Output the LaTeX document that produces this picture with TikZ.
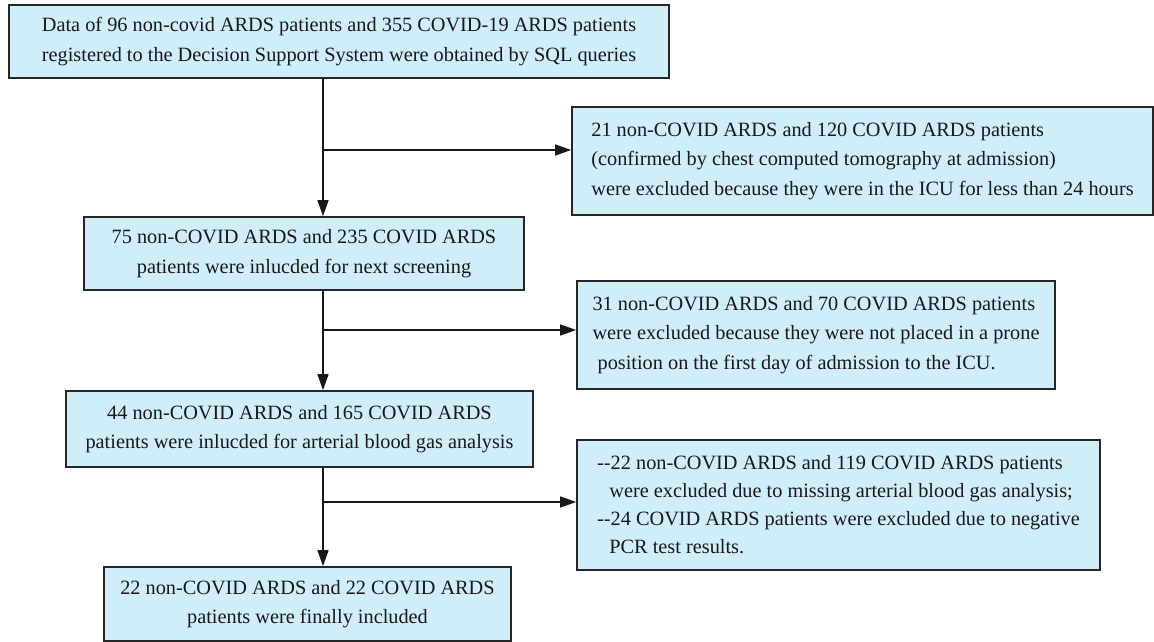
\documentclass[tikz,border=0pt]{standalone}
\usepackage{fontspec}
\setmainfont{Liberation Serif}
\usepackage{tikz}
\usetikzlibrary{arrows.meta,positioning}
\definecolor{boxblue}{RGB}{208,237,250}

\begin{document}
\begin{tikzpicture}[x=1pt,y=-1pt,font=\fontsize{20.3}{29.5}\selectfont]
	  \tikzstyle{box}=[rectangle,draw=black!85,line width=1.6pt,fill=boxblue,
				  text=black!90,inner sep=0pt,align=center]
	  \tikzstyle{excl box}=[box,align=left]
	  \tikzstyle{line}=[line width=1.3pt,draw=black!90]
	  \tikzstyle{arrow}=[line,-{Triangle[length=16pt,width=11pt]}]

		\useasboundingbox (0,0) rectangle (1154,642);

		% main column
		\node[box,minimum width=660,minimum height=73] (data) at (339,41.5)
			{Data of 96 non-covid ARDS patients and 355 COVID-19 ARDS patients\\
			 registered to the Decision Support System were obtained by SQL queries};
		\node[box,minimum width=440,minimum height=73] (next) at (304,253.5)
			{75 non-COVID ARDS and 235 COVID ARDS\\
			 patients were inlucded for next screening};
		\node[box,minimum width=467,minimum height=76] (abg) at (299.5,429)
			{44 non-COVID ARDS and 165 COVID ARDS\\
			 patients were inlucded for arterial blood gas analysis};
		\node[box,minimum width=407,minimum height=74] (final) at (307.5,604)
			{22 non-COVID ARDS and 22 COVID ARDS\\
			 patients were finally included};

		% excluded
		\node[excl box,minimum width=581,minimum height=108] (shortstay) at (862.5,161)
			{21 non-COVID ARDS and 120 COVID ARDS patients\\
			 (confirmed by chest computed tomography at admission)\\
			 were excluded because they were in the ICU for less than 24 hours};
		\node[excl box,minimum width=478,minimum height=108] (noprone) at (816,335)
			{31 non-COVID ARDS and 70 COVID ARDS patients\\
			 were excluded because they were not placed in a prone\\
			 \hspace*{0.25em}position on the first day of admission to the ICU.};
		\node[excl box,minimum width=523,minimum height=130,
			font=\fontsize{20.3}{28}\selectfont] (noabg) at (838.5,505)
			{-{}-22 non-COVID ARDS and 119 COVID ARDS patients\\
			 \hspace*{0.6em}were excluded due to missing arterial blood gas analysis;\\
			 -{}-24 COVID ARDS patients were excluded due to negative\\
			 \hspace*{0.6em}PCR test results.};

		\coordinate (split1) at (323,150);
		\coordinate (split2) at (323,330);
		\coordinate (split3) at (323,502);

		\draw[arrow] (data.south -| split1) -- (next.north -| split1);
		\draw[arrow] (next.south -| split2) -- (abg.north -| split2);
		\draw[arrow] (abg.south -| split3) -- (final.north -| split3);

		\draw[arrow] (split1) -- (split1 -| shortstay.west);
		\draw[arrow] (split2) -- (split2 -| noprone.west);
		\draw[arrow] (split3) -- (split3 -| noabg.west);
\end{tikzpicture}
\end{document}
